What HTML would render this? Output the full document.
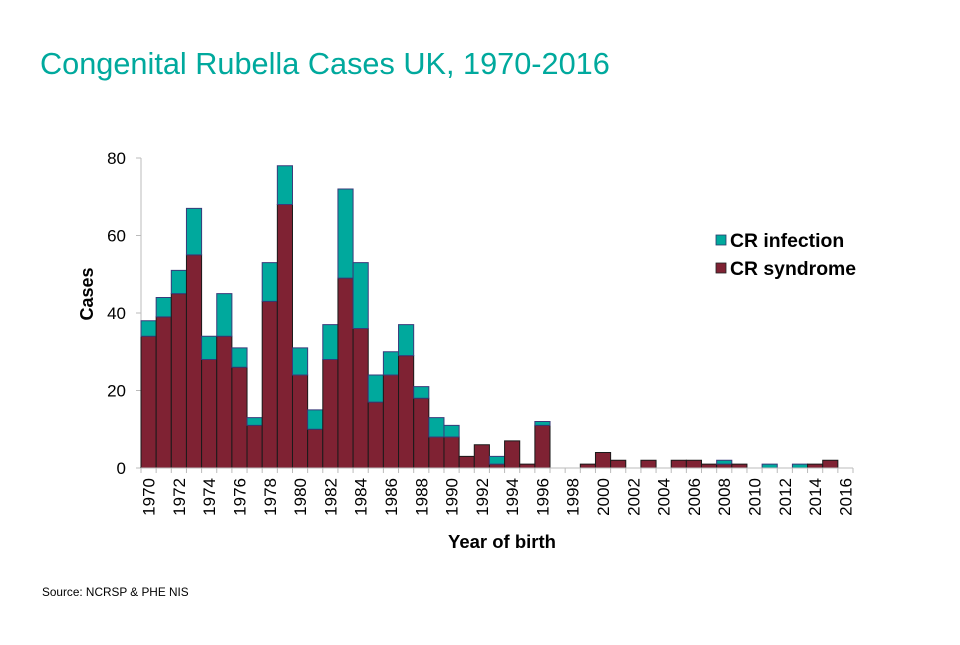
<!DOCTYPE html>
<html><head><meta charset="utf-8"><style>
body{margin:0;background:#fff;font-family:"Liberation Sans",Arial,sans-serif}
svg text{font-family:"Liberation Sans",Arial,sans-serif}
</style></head><body>
<svg id="chart" width="960" height="640" viewBox="0 0 960 640">
<text x="40" y="74" font-size="30.7" fill="#00A99D">Congenital Rubella Cases UK, 1970-2016</text>
<text x="42" y="596" font-size="11.8" fill="#000">Source: NCRSP &amp; PHE NIS</text>
<g id="plot"></g>
<g>
<rect x="716" y="235" width="10" height="10" fill="#00A99D" stroke="#2a3a6a" stroke-width="0.8"/>
<text x="730" y="247" font-size="19.4" font-weight="bold">CR infection</text>
<rect x="716" y="263" width="10" height="10" fill="#7F2233" stroke="#222" stroke-width="0.8"/>
<text x="730" y="275" font-size="19.4" font-weight="bold">CR syndrome</text>
</g>
<text x="0" y="0" font-size="18" font-weight="bold" text-anchor="middle" transform="translate(93,294) rotate(-90)">Cases</text>
<text x="502" y="548" font-size="18.5" font-weight="bold" text-anchor="middle">Year of birth</text>
</svg>
<script>
const years = [];
for (let y = 1970; y <= 2016; y++) years.push(y);
const syndrome = [34,39,45,55,28,34,26,11,43,68,24,10,28,49,36,17,24,29,18,8,8,3,6,1,7,1,11,0,0,1,4,2,0,2,0,2,2,1,1,1,0,0,0,0,1,2,0];
const infection = [4,5,6,12,6,11,5,2,10,10,7,5,9,23,17,7,6,8,3,5,3,0,0,2,0,0,1,0,0,0,0,0,0,0,0,0,0,0,1,0,0,1,0,1,0,0,0];
const yTicks = [0,20,40,60,80];

const NS = "http://www.w3.org/2000/svg";
const g = document.getElementById("plot");
const x0 = 141, x1 = 853, yBase = 468, yTop = 158, yMax = 80;
const bw = (x1 - x0) / years.length;
const xs = i => x0 + i * bw;
const ys = v => yBase - v / yMax * (yBase - yTop);
function mk(tag, attrs) { const e = document.createElementNS(NS, tag); for (const k in attrs) e.setAttribute(k, attrs[k]); g.appendChild(e); return e; }

let ax = mk("line", {x1: x0, y1: yTop, x2: x0, y2: yBase, stroke: "#bbb", "stroke-width": 1});


yTicks.forEach(t => {
  const tl = mk("line", {x1: x0 - 5, y1: ys(t), x2: x0, y2: ys(t), stroke: "#bbb"});
  
  
  const tx = mk("text", {x: x0 - 15, y: ys(t) + 6, "font-size": 17, "text-anchor": "end"});
  tx.textContent = t;
  
  
});
years.forEach((yr, i) => {
  const s = syndrome[i], f = infection[i];
  if (s > 0) {
    const r = mk("rect", {x: xs(i), y: ys(s), width: bw, height: ys(0) - ys(s), fill: "#7F2233", stroke: "#1a1a1a", "stroke-width": 1});
    
    
  }
  if (f > 0) {
    const r = mk("rect", {x: xs(i), y: ys(s + f), width: bw, height: ys(s) - ys(s + f), fill: "#00A99D", stroke: "#3a3a7a", "stroke-width": 1});
    
    
  }
});
const xa = mk("line", {x1: x0, y1: yBase, x2: x1, y2: yBase, stroke: "#bbb", "stroke-width": 1});


for (let i = 0; i <= years.length; i++) {
  const tl = mk("line", {x1: xs(i), y1: yBase, x2: xs(i), y2: yBase + 5, stroke: "#bbb"});
  
  
}
years.forEach((yr, i) => {
  if (yr % 2 !== 0) return;
  const cx = xs(i) + bw / 2 + 6;
  const tx = mk("text", {x: 0, y: 0, "font-size": 17, "text-anchor": "end", transform: `translate(${cx},478) rotate(-90)`});
  tx.textContent = yr;
  
  
});
</script>
</body></html>
